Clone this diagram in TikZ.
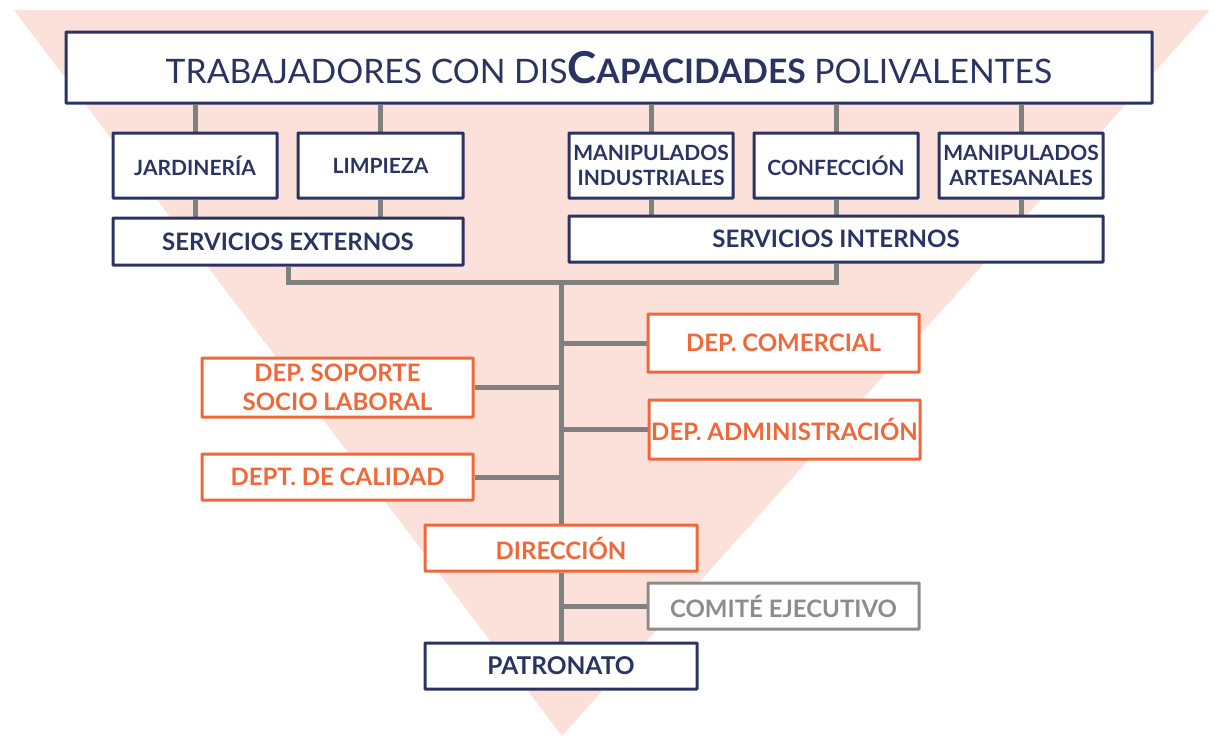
\documentclass[tikz,border=0pt]{standalone}
\usepackage{fontspec}
\usetikzlibrary{backgrounds}
\setmainfont{Lato}
\definecolor{navy}{HTML}{2A3362}
\definecolor{orng}{HTML}{EE6839}
\definecolor{pinkbg}{HTML}{FCE1DA}
\definecolor{conngray}{HTML}{808080}
\definecolor{txtgray}{HTML}{8C8C8C}
\tikzset{
  basebox/.style={fill=white, line width=3pt, inner sep=0pt, align=center, rounded corners=0.5pt},
  navybox/.style={basebox, draw=navy, text=navy, font=\bfseries\fontsize{21}{25}\selectfont},
  navybig/.style={navybox, font=\bfseries\fontsize{24}{26}\selectfont},
  orbox/.style={basebox, draw=orng, text=orng, font=\bfseries\fontsize{24}{29.5}\selectfont},
  graybox/.style={basebox, draw=txtgray, text=txtgray, font=\bfseries\fontsize{24}{27}\selectfont},
  conn/.style={draw=conngray, line width=5pt},
}
\begin{document}
\begin{tikzpicture}[x=1pt,y=-1pt]
\useasboundingbox (0,0) rectangle (1214,736);

% nodes
\node[navybox, minimum width=1086, minimum height=71, font=\fontsize{33.7}{36}\selectfont] (top) at (609,67.5)
  {TRABAJADORES CON DIS{\bfseries{\fontsize{44}{44}\selectfont C}APACIDADES} POLIVALENTES};
\node[navybox, minimum width=164, minimum height=65] (jard) at (195,165.5) {JARDINERÍA};
\node[navybox, minimum width=165, minimum height=65] (limp) at (380.5,165.5) {LIMPIEZA};
\node[navybox, minimum width=164, minimum height=65] (manind) at (651,165.5) {MANIPULADOS\\INDUSTRIALES};
\node[navybox, minimum width=164, minimum height=65] (conf) at (836,165.5) {CONFECCIÓN};
\node[navybox, minimum width=164, minimum height=65] (manart) at (1021,165.5) {MANIPULADOS\\ARTESANALES};
\node[navybig, minimum width=350, minimum height=47] (servext) at (288,241.5) {SERVICIOS EXTERNOS};
\node[navybig, minimum width=534, minimum height=46] (servint) at (836,239) {SERVICIOS INTERNOS};

\node[orbox, minimum width=271, minimum height=58] (com) at (783.5,343) {DEP. COMERCIAL};
\node[orbox, minimum width=271, minimum height=59] (sop) at (337.5,387.5) {DEP. SOPORTE\\SOCIO LABORAL};
\node[orbox, minimum width=271, minimum height=59] (adm) at (784.5,429.5) {DEP. ADMINISTRACIÓN};
\node[orbox, minimum width=271, minimum height=46] (cal) at (337.5,477) {DEPT. DE CALIDAD};
\node[orbox, minimum width=272, minimum height=46] (dir) at (561,548) {DIRECCIÓN};
\node[graybox, minimum width=271, minimum height=46] (comite) at (783.5,606) {COMITÉ EJECUTIVO};
\node[navybig, minimum width=272, minimum height=46, font=\bfseries\fontsize{24.5}{26}\selectfont] (pat) at (561,666) {PATRONATO};

\coordinate (bus) at (561,282);

\begin{scope}[on background layer]
\fill[pinkbg] (14,10) -- (1210,10) -- (562,736) -- cycle;
% top box to activity boxes
\foreach \n in {jard,limp,manind,conf,manart}{
  \draw[conn] (\n.north) -- (\n.north |- top.south);
}
% activity boxes to services
\foreach \n in {jard,limp}{
  \draw[conn] (\n.south) -- (\n.south |- servext.north);
}
\foreach \n in {manind,conf,manart}{
  \draw[conn] (\n.south) -- (\n.south |- servint.north);
}
% services bus
\draw[conn] (servext.south) |- (bus) -| (servint.south);
% trunk
\draw[conn] (bus) -- (dir.north);
\draw[conn] (dir.south) -- (pat.north);
% departments
\draw[conn] (com.west) -- (com.west -| bus);
\draw[conn] (adm.west) -- (adm.west -| bus);
\draw[conn] (sop.east) -- (sop.east -| bus);
\draw[conn] (cal.east) -- (cal.east -| bus);
\draw[conn] (comite.west) -- (comite.west -| bus);
\end{scope}
\end{tikzpicture}
\end{document}
